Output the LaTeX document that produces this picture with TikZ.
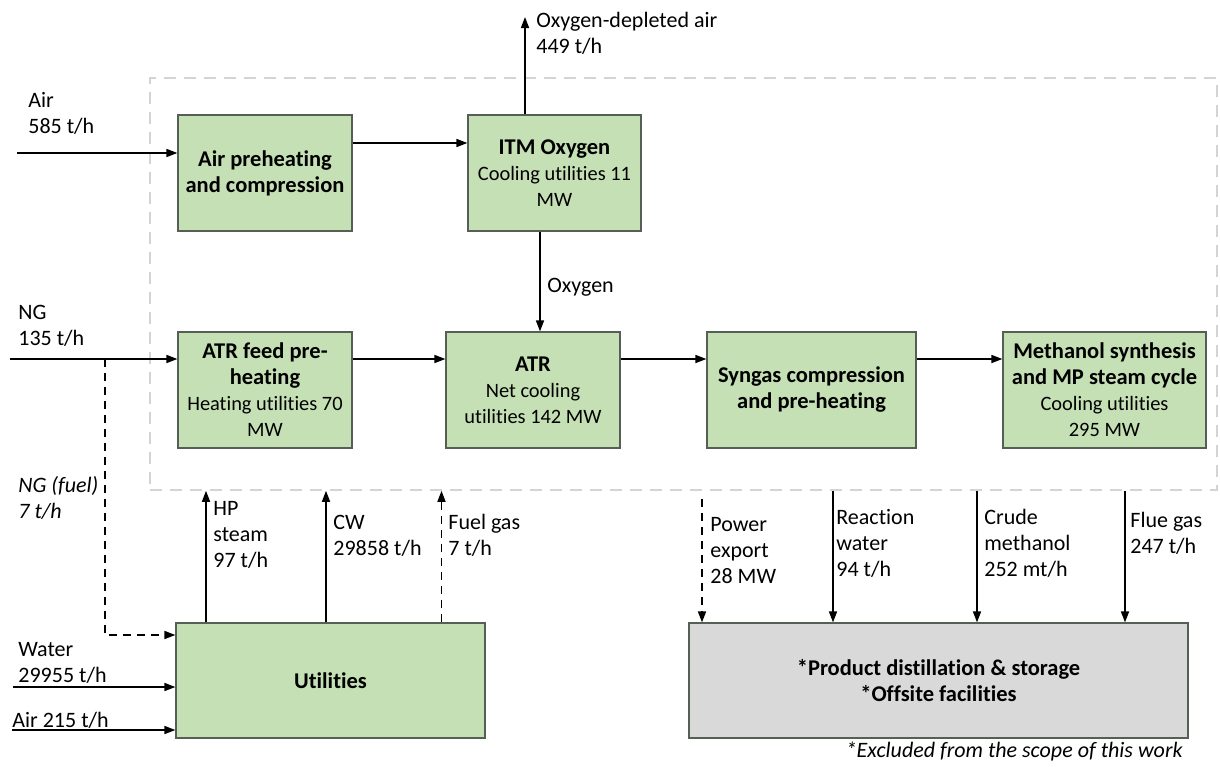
\documentclass[tikz,border=0pt]{standalone}
\usepackage{fontspec}
\setmainfont{Carlito}[Ligatures=NoCommon]
\usetikzlibrary{arrows.meta, positioning}
\definecolor{boxgreen}{RGB}{197,224,180}
\definecolor{boxgrey}{RGB}{217,217,217}
\definecolor{boxedge}{RGB}{85,95,85}
\definecolor{scopegrey}{RGB}{212,212,212}
\newcommand{\ttl}[1]{{\fontsize{11.25}{13}\selectfont\bfseries #1}}

\begin{document}
\begin{tikzpicture}[
  x=0.5pt, y=-0.5pt,
  every node/.style={font=\fontsize{10.2}{13}\selectfont},
  gbox/.style={draw=boxedge, fill=boxgreen, line width=0.6pt, minimum width=87pt,
               minimum height=58pt, align=center, inner sep=2pt},
  pbox/.style={gbox, fill=boxgrey},
  lbl/.style={anchor=base west, align=left, inner sep=0pt, font=\fontsize{11}{13}\selectfont},
  arr/.style={-{Triangle[length=5.5pt, width=4pt]}, line width=0.8pt},
  darr/.style={arr, dash pattern=on 4pt off 3pt}
]
  \useasboundingbox (0,0) rectangle (1220,766);
  \node[draw=scopegrey, dash pattern=on 6pt off 4pt, line width=0.8pt,
        minimum width=533.5pt, minimum height=206pt] (plant) at (683.5,284) {};

  \node[gbox] (ap)   at (265,173)    {\ttl{Air preheating}\\\ttl{and compression}};
  \node[gbox, minimum width=86.5pt] (itm) at (554.5,173) {\ttl{ITM Oxygen}\\Cooling utilities 11\\MW};
  \node[gbox] (feed) at (265,390)    {\ttl{ATR feed pre-}\\\ttl{heating}\\Heating utilities 70\\MW};
  \node[gbox] (atr)  at (533,390)    {\ttl{ATR}\\Net cooling\\utilities 142 MW};
  \node[gbox, minimum width=104.5pt] (syn)  at (811.5,390)  {\ttl{Syngas compression}\\\ttl{and pre-heating}};
  \node[gbox, minimum width=101.5pt] (meoh) at (1104.5,390) {\ttl{Methanol synthesis}\\\ttl{and MP steam cycle}\\Cooling utilities\\295 MW};
  \node[gbox, minimum width=154.5pt, minimum height=57.5pt] (util) at (330.5,680.5) {\ttl{Utilities}};
  \node[pbox, minimum width=249.5pt, minimum height=57.5pt] (prod) at (938.5,680.5)
       {\ttl{*Product distillation \& storage}\\\ttl{*Offsite facilities}};

  \coordinate (airin)   at (17,153);
  \coordinate (depl)    at (525,17);
  \coordinate (ngin)    at (10,359);
  \coordinate (ngfuel)  at (105,359);
  \coordinate (waterin) at (13,687);
  \coordinate (air2in)  at (12,730);

  \draw[arr] (airin) -- ([yshift=10pt]ap.west);
  \draw[arr] ([yshift=15pt]ap.east) -- ([yshift=15pt]itm.west);
  \draw[arr] ([xshift=-14.75pt]itm.north) -- (depl);
  \draw[arr] ([xshift=-7.25pt]itm.south) -- ([xshift=3.5pt]atr.north);
  \draw[arr] (ngin) -- ([yshift=15.5pt]feed.west);
  \draw[arr] ([yshift=15.5pt]feed.east) -- ([yshift=15.5pt]atr.west);
  \draw[arr] ([yshift=15.5pt]atr.east) -- ([yshift=15.5pt]syn.west);
  \draw[arr] ([yshift=15.5pt]syn.east) -- ([yshift=15.5pt]meoh.west);
  \draw[darr] (ngfuel) |- ([yshift=22.75pt]util.west);
  \draw[arr] (waterin) -- ([yshift=-3.25pt]util.west);
  \draw[arr] (air2in) -- ([yshift=-24.75pt]util.west);

  \draw[arr]  ([xshift=-62.25pt]util.north) -- ([xshift=-62.25pt]util.north |- plant.south);
  \draw[arr]  ([xshift=-2.25pt]util.north) -- ([xshift=-2.25pt]util.north |- plant.south);
  \draw[darr] ([xshift=55.5pt]util.north) -- ([xshift=55.5pt]util.north |- plant.south);

  \draw[darr] ([xshift=-118.25pt,yshift=-4pt]prod.north |- plant.south) -- ([xshift=-118.25pt]prod.north);
  \draw[arr]  ([xshift=-52.75pt]prod.north |- plant.south) -- ([xshift=-52.75pt]prod.north);
  \draw[arr]  ([xshift=19.25pt]prod.north |- plant.south) -- ([xshift=19.25pt]prod.north);
  \draw[arr]  ([xshift=93.25pt]prod.north |- plant.south) -- ([xshift=93.25pt]prod.north);

  \node[lbl] (lair)   at (28,133)   {Air\\585 t/h};
  \node[lbl] (ldepl)  at (536,53)   {Oxygen-depleted air\\449 t/h};
  \node[lbl] (loxy)   at (547,292)  {Oxygen};
  \node[lbl] (lng)    at (18,345)   {NG\\135 t/h};
  \node[lbl, font=\fontsize{11}{13}\selectfont\itshape] (lfuel) at (18,518) {NG (fuel)\\7 t/h};
  \node[lbl] (lhp)    at (213,567)  {HP\\steam\\97 t/h};
  \node[lbl] (lcw)    at (333,555)  {CW\\29858 t/h};
  \node[lbl] (lfgas)  at (448,555)  {Fuel gas\\7 t/h};
  \node[lbl] (lpow)   at (710,583)  {Power\\export\\28 MW};
  \node[lbl] (lrw)    at (836,576)  {Reaction\\water\\94 t/h};
  \node[lbl] (lcm)    at (984,576)  {Crude\\methanol\\252 mt/h};
  \node[lbl] (lflue)  at (1130,553) {Flue gas\\247 t/h};
  \node[lbl] (lwater) at (18,682)   {Water\\29955 t/h};
  \node[lbl] (lair2)  at (12,727)   {Air 215 t/h};
  \node[lbl, anchor=base east, font=\fontsize{11}{13}\selectfont\itshape] (note) at (1183,757)
       {*Excluded from the scope of this work};
\end{tikzpicture}
\end{document}
